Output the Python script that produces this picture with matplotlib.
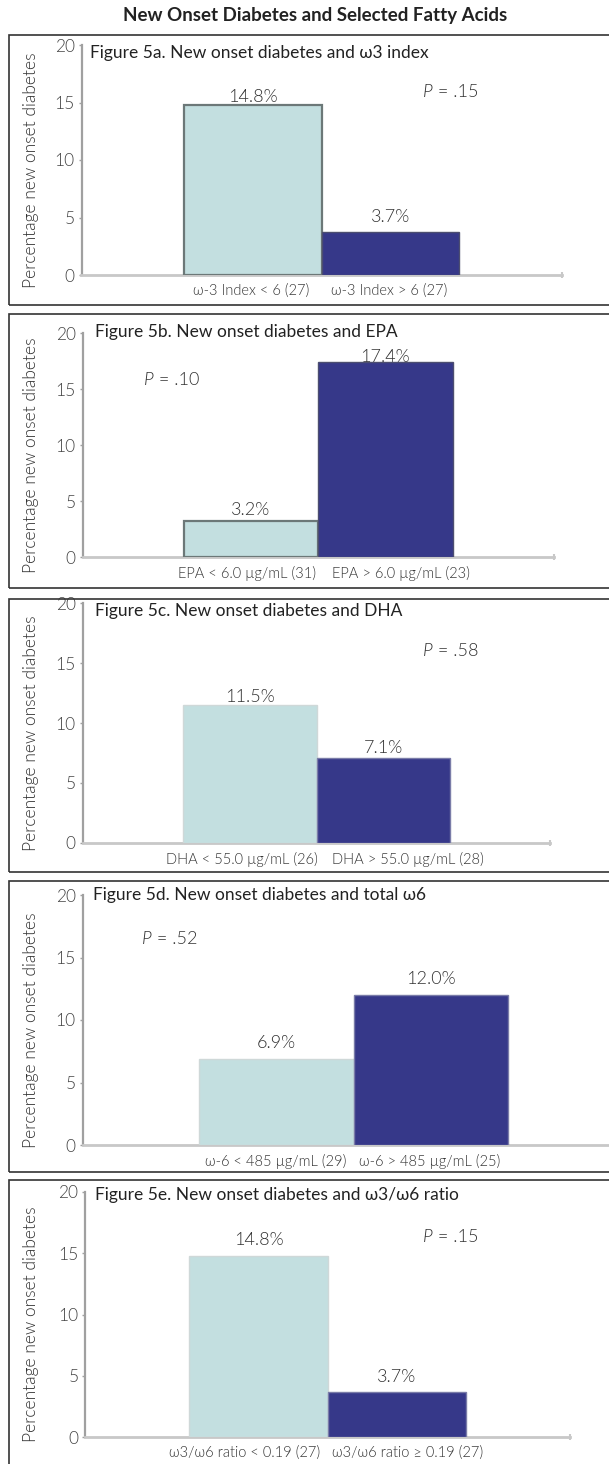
import matplotlib
matplotlib.use('Agg')
import matplotlib.pyplot as plt
from matplotlib.patches import Rectangle

plt.rcParams['font.family'] = ['Lato', 'DejaVu Sans']

W, H = 609, 1464

# ---------------- data ----------------
main_title = 'New Onset Diabetes and Selected Fatty Acids'
figure_titles = [
    'Figure 5a. New onset diabetes and ω3 index',
    'Figure 5b. New onset diabetes and EPA',
    'Figure 5c. New onset diabetes and DHA',
    'Figure 5d. New onset diabetes and total ω6',
    'Figure 5e. New onset diabetes and ω3/ω6 ratio',
]
cats_5a = ['ω-3 Index < 6 (27)', 'ω-3 Index > 6 (27)']
cats_5b = ['EPA < 6.0 µg/mL (31)', 'EPA > 6.0 µg/mL (23)']
cats_5c = ['DHA < 55.0 µg/mL (26)', 'DHA > 55.0 µg/mL (28)']
cats_5d = ['ω-6 < 485 µg/mL (29)', 'ω-6 > 485 µg/mL (25)']
cats_5e = ['ω3/ω6 ratio < 0.19 (27)', 'ω3/ω6 ratio ≥ 0.19 (27)']
vals_5a = [14.8, 3.7]
vals_5b = [3.2, 17.4]
vals_5c = [11.5, 7.1]
vals_5d = [6.9, 12.0]
vals_5e = [14.8, 3.7]
p_values = ['.15', '.10', '.58', '.52', '.15']
ytick_values = [0, 5, 10, 15, 20]
y_label = 'Percentage new onset diabetes'

categories = [cats_5a, cats_5b, cats_5c, cats_5d, cats_5e]
values = [vals_5a, vals_5b, vals_5c, vals_5d, vals_5e]

# ---------------- layout (pixels) ----------------
# axes: left, right, y of 20, y of 0
layouts = [
    dict(axes=(81.5, 561.9, 45, 275), box=(35, 305), title=(90, 53), p=(423, 92),
         lab_off=(8, 15), gaps=(12, 9), edge='a'),
    dict(axes=(82.7, 553.5, 333, 557), box=(314, 588), title=(95, 332), p=(144, 380),
         lab_off=(11, 5), gaps=(2, 14), edge='a'),
    dict(axes=(82.7, 550.3, 603, 843), box=(599, 872), title=(95, 611), p=(423, 651),
         lab_off=(8, 10), gaps=(-1, 15), edge='b'),
    dict(axes=(82.7, 624.5, 895, 1145), box=(881, 1172), title=(93, 895), p=(142, 939),
         lab_off=(16, 16), gaps=(7, 5), edge='b'),
    dict(axes=(85.4, 570.2, 1192, 1437), box=(1180, 1480), title=(95, 1195), p=(423, 1237),
         lab_off=(16, 15), gaps=(8, 4), edge='b'),
]

light = '#c3dfe0'
dark = '#363889'
LIGHTW = 300

def fx(x):
    return x / W

def fy(y):
    return 1 - y / H

fig = plt.figure(figsize=(W / 100, H / 100), dpi=100)
fig.patch.set_facecolor('white')

fig.text(fx(315), fy(16), main_title, ha='center', va='center',
         fontsize=13.5, fontweight='bold', color='#222222')

for i in range(5):
    L = layouts[i]
    left, right, ytop, ybot = L['axes']
    ax = fig.add_axes([fx(left), fy(ybot), (right - left) / W, (ybot - ytop) / H])
    ax.set_xlim(-1.25, 2.25)
    ax.set_ylim(0, 20)
    xs = [0, 1]
    if L['edge'] == 'a':
        ec = ['#6c7878', '#4c4e70']
        lw = [1.6, 1.0]
    else:
        ec = ['#cfd8d8', '#7a7ca8']
        lw = [1.0, 1.0]
    ax.bar(xs, values[i], width=1.0, color=[light, dark], edgecolor=ec,
           linewidth=lw, zorder=3)
    for xi, v, off in zip(xs, values[i], L['lab_off']):
        ax.annotate(f'{v:.1f}%', xy=(xi, v), xytext=(0, off), textcoords='offset pixels',
                    ha='center', va='center', fontsize=13, fontweight=LIGHTW,
                    color='#333333', zorder=2)
    # category labels
    boundary = sum(xs) / 2
    g1, g2 = L['gaps']
    ax.annotate(categories[i][0], xy=(boundary, 0), xycoords=('data', 'axes fraction'),
                xytext=(-g1, -16), textcoords='offset pixels', ha='right', va='center',
                fontsize=10.5, fontweight=LIGHTW, color='#333333', annotation_clip=False)
    ax.annotate(categories[i][1], xy=(boundary, 0), xycoords=('data', 'axes fraction'),
                xytext=(g2, -16), textcoords='offset pixels', ha='left', va='center',
                fontsize=10.5, fontweight=LIGHTW, color='#333333', annotation_clip=False)

    for s in ['top', 'right']:
        ax.spines[s].set_visible(False)
    ax.spines['left'].set_color('#a0a0a0')
    ax.spines['left'].set_linewidth(1.6)
    ax.spines['bottom'].set_color('#c8c8c8')
    ax.spines['bottom'].set_linewidth(2.0)
    ax.set_yticks(ytick_values)
    ax.tick_params(axis='y', direction='out', length=2.5, width=1, color='#a0a0a0',
                   labelsize=12.5, labelcolor='#444444', pad=2.5)
    for lab in ax.get_yticklabels():
        lab.set_fontweight(LIGHTW)
    ax.set_xticks([])
    ax.set_xticks([2.25], minor=True)
    ax.tick_params(axis='x', which='minor', direction='inout', length=5, width=1.5,
                   color='#c8c8c8', labelbottom=False)

    ax.set_ylabel(y_label, fontsize=12.5, fontweight=LIGHTW, color='#333333')
    ax.yaxis.label.set_va('center')
    yc = (ytop + ybot) / 2 + 10
    ax.yaxis.set_label_coords((31 - left) / (right - left), (ybot - yc) / (ybot - ytop))

    # title and p value
    tx, ty = L['title']
    fig.text(fx(tx), fy(ty), figure_titles[i], ha='left', va='center',
             fontsize=12.5, color='#222222')
    px, py = L['p']
    pt = fig.text(fx(px), fy(py), 'P', ha='left', va='center', style='italic',
                  fontweight=LIGHTW, fontsize=13, color='#333333')
    ax.annotate(' = ' + p_values[i], xy=(1, 0), xycoords=pt, ha='left', va='bottom',
                fontsize=13, fontweight=LIGHTW, color='#333333', annotation_clip=False)

    # panel frame
    btop, bbot = L['box']
    fig.add_artist(Rectangle((fx(9), fy(bbot)), (W + 20) / W, (bbot - btop) / H,
                             transform=fig.transFigure, fill=False,
                             edgecolor='#333333', linewidth=1.2))

fig.savefig('out.png', dpi=100)
